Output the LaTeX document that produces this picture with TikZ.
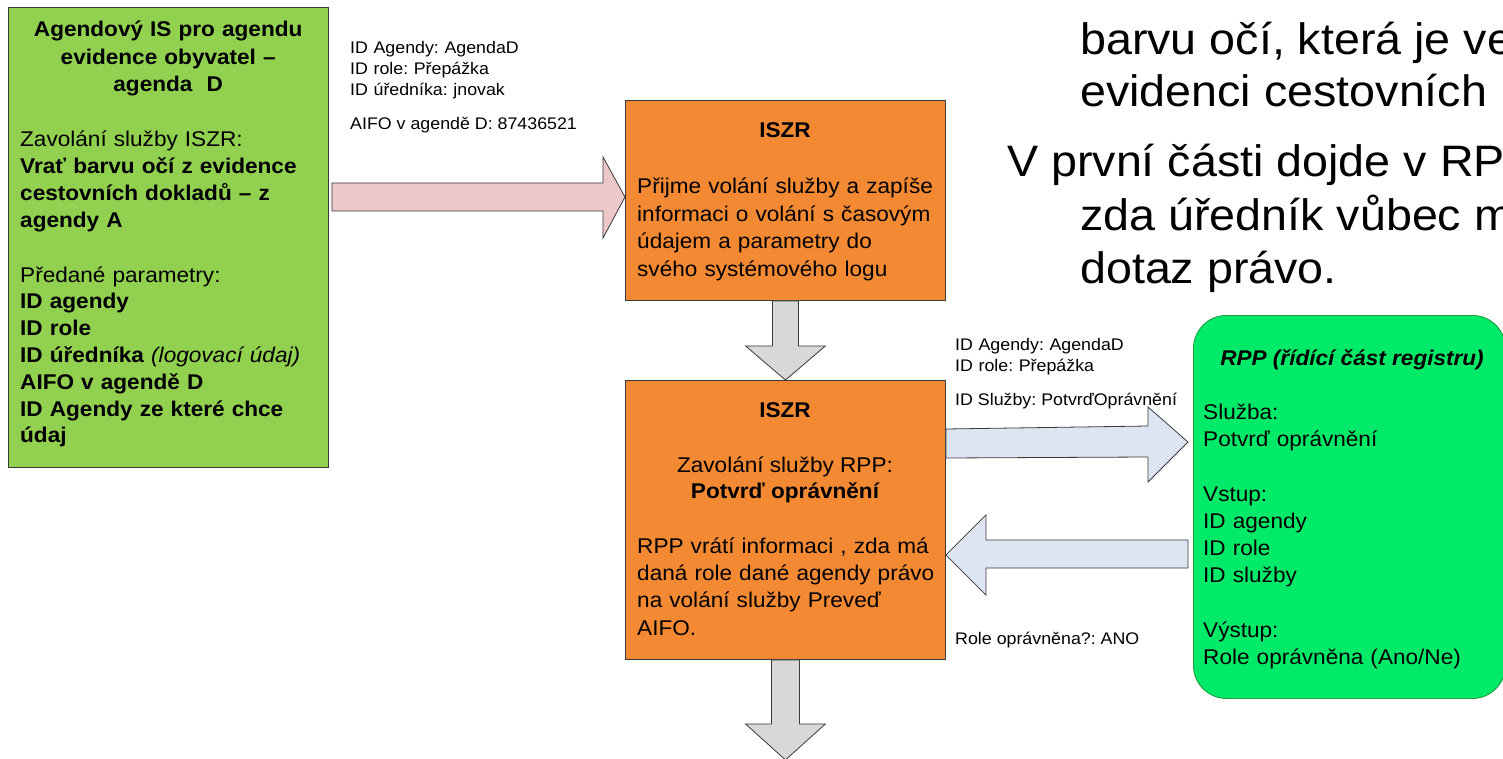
\documentclass[tikz,border=0pt]{standalone}
\usepackage{fontspec}
\setmainfont[FakeStretch=1.06]{Liberation Sans}
\usetikzlibrary{calc}
\frenchspacing
\definecolor{gbox}{HTML}{92D050}
\definecolor{obox}{HTML}{F38A33}
\definecolor{rbox}{HTML}{00EA6A}
\definecolor{rline}{HTML}{1FA03C}
\definecolor{pinkfill}{HTML}{ECC8C8}
\definecolor{bluefill}{HTML}{DDE5F3}
\definecolor{grayfill}{HTML}{D8D8D8}
\definecolor{edge}{HTML}{3A3A3A}
\begin{document}
\begin{tikzpicture}[x=1pt,y=-1pt,
  outl/.style={draw=edge, line width=0.9pt},
  boxnode/.style={outl, anchor=north west, inner sep=0pt},
  mtxt/.style={anchor=base west, inner sep=0pt, align=left, text width=#1},
  mtxt/.default=320,
  bigfont/.style={font=\fontsize{21.3}{26.8}\selectfont},
  ofont/.style={font=\fontsize{21.3}{27.4}\selectfont},
  lblfont/.style={font=\fontsize{16.8}{21}\selectfont},
  hugefont/.style={font=\fontsize{44}{52}\selectfont},
  barrow/.style={outl, line width=0.8pt, line join=miter}]
\path[use as bounding box] (0,0) rectangle (1503,759);
\clip (0,0) rectangle (1503,759);
\fill[white] (0,0) rectangle (1503,759);

% boxes
\node[boxnode, fill=gbox, minimum width=320, minimum height=460] (green) at (8,7) {};
\node[boxnode, fill=obox, minimum width=320, minimum height=200] (iszrA) at (625,100) {};
\node[boxnode, fill=obox, minimum width=320, minimum height=279] (iszrB) at (625,380) {};
\node[boxnode, draw=rline, fill=rbox, rounded corners=33, minimum width=312, minimum height=383] (rpp) at (1193,315) {};

% block arrows
\filldraw[barrow, fill=pinkfill]
  ($(green.north east)+(3,176)$) -- ($(iszrA.north west)+(-22,83)$) -- ($(iszrA.north west)+(-22,57)$)
  -- ($(iszrA.north west)+(0,97)$) -- ($(iszrA.north west)+(-22,138)$) -- ($(iszrA.north west)+(-22,111)$)
  -- ($(green.north east)+(3,204)$) -- cycle;
\filldraw[barrow, fill=grayfill]
  ($(iszrA.south)+(-13,0)$) -- ($(iszrA.south)+(-13,45)$) -- ($(iszrA.south)+(-40,45)$)
  -- (iszrB.north) -- ($(iszrA.south)+(40,45)$) -- ($(iszrA.south)+(13,45)$)
  -- ($(iszrA.south)+(13,0)$) -- cycle;
\coordinate (down2) at ($(iszrB.south)+(0,100)$);
\filldraw[barrow, fill=grayfill]
  ($(iszrB.south)+(-14,0)$) -- ($(iszrB.south)+(-14,64)$) -- ($(iszrB.south)+(-40,64)$)
  -- (down2) -- ($(iszrB.south)+(40,64)$) -- ($(iszrB.south)+(14,64)$)
  -- ($(iszrB.south)+(14,0)$) -- cycle;
\filldraw[barrow, fill=bluefill]
  ($(iszrB.north east)+(0,49)$) -- ($(rpp.north west)+(-45,111)$) -- ($(rpp.north west)+(-45,92)$)
  -- ($(rpp.north west)+(-5,127)$) -- ($(rpp.north west)+(-45,167)$) -- ($(rpp.north west)+(-45,142)$)
  -- ($(iszrB.north east)+(0,78)$) -- cycle;
\filldraw[barrow, fill=bluefill]
  ($(rpp.north west)+(-5,225)$) -- ($(iszrB.north east)+(40,160)$) -- ($(iszrB.north east)+(40,135)$)
  -- ($(iszrB.north east)+(0,175)$) -- ($(iszrB.north east)+(40,215)$) -- ($(iszrB.north east)+(40,188)$)
  -- ($(rpp.north west)+(-5,253)$) -- cycle;

% green box text
\node[mtxt=296, align=center, font=\fontsize{21.3}{27.5}\selectfont\bfseries] (gtitle) at (20,37)
  {Agendový IS pro agendu\\evidence obyvatel –\\agenda\ \ D};
\node[mtxt, bigfont] (gcall) at (20,147)
  {Zavolání služby ISZR:\\\textbf{Vrať barvu očí z evidence}\\\textbf{cestovních dokladů – z}\\\textbf{agendy A}};
\node[mtxt, bigfont] (gpar) at (20,282)
  {Předané parametry:\\\textbf{ID agendy}\\\textbf{ID role}\\\textbf{ID úředníka} \textit{(logovací údaj)}\\\textbf{AIFO v agendě D}\\\textbf{ID Agendy ze které chce}\\\textbf{údaj}};

% ISZR A text
\node[anchor=base, inner sep=0pt, font=\fontsize{21.3}{27.4}\selectfont\bfseries] (atitle) at (785,138) {ISZR};
\node[mtxt, ofont] (atext) at (637,194)
  {Přijme volání služby a zapíše\\informaci o volání s časovým\\údajem a parametry do\\svého systémového logu};

% ISZR B text
\node[anchor=base, inner sep=0pt, font=\fontsize{21.3}{27.4}\selectfont\bfseries] (btitle) at (785,417) {ISZR};
\node[anchor=base, inner sep=0pt, ofont] (bcall) at (785,472) {Zavolání služby RPP:};
\node[anchor=base, inner sep=0pt, font=\fontsize{21.3}{27.4}\selectfont\bfseries] (bserv) at (785,498) {Potvrď oprávnění};
\node[mtxt, ofont] (btext) at (637,553)
  {RPP vrátí informaci , zda má\\daná role dané agendy právo\\na volání služby Preveď\\AIFO.};

% RPP text
\node[anchor=base, inner sep=0pt, font=\fontsize{21.3}{27}\selectfont\bfseries\itshape] (rtitle) at (1352,365) {RPP (řídící část registru)};
\node[mtxt=300, font=\fontsize{21.3}{27}\selectfont] (rtext) at (1203,419)
  {Služba:\\Potvrď oprávnění\\[28pt]Vstup:\\ID agendy\\ID role\\ID služby\\[28pt]Výstup:\\Role oprávněna (Ano/Ne)};

% labels
\node[mtxt=260, lblfont] (lblA) at (350,54)
  {ID Agendy: AgendaD\\ID role: Přepážka\\ID úředníka: jnovak};
\node[anchor=base west, inner sep=0pt, lblfont] (lblAifo) at (350,130) {AIFO v agendě D: 87436521};
\node[mtxt=260, lblfont] (lblB) at (955,350)
  {ID Agendy: AgendaD\\ID role: Přepážka};
\node[anchor=base west, inner sep=0pt, lblfont] (lblServ) at (955,405) {ID Služby: PotvrďOprávnění};
\node[anchor=base west, inner sep=0pt, lblfont] (lblRes) at (955,644) {Role oprávněna?: ANO};

% slide text (cut off at the right, as in the reference)
\node[anchor=base west, inner sep=0pt, hugefont] (s1) at (1080,55) {barvu očí, která je ve};
\node[anchor=base west, inner sep=0pt, hugefont] (s2) at (1080,107) {evidenci cestovních};
\node[anchor=base west, inner sep=0pt, hugefont] (s3) at (1007,177) {V první části dojde v RPP};
\node[anchor=base west, inner sep=0pt, hugefont] (s4) at (1080,230) {zda úředník vůbec má};
\node[anchor=base west, inner sep=0pt, hugefont] (s5) at (1080,283) {dotaz právo.};
\end{tikzpicture}
\end{document}
